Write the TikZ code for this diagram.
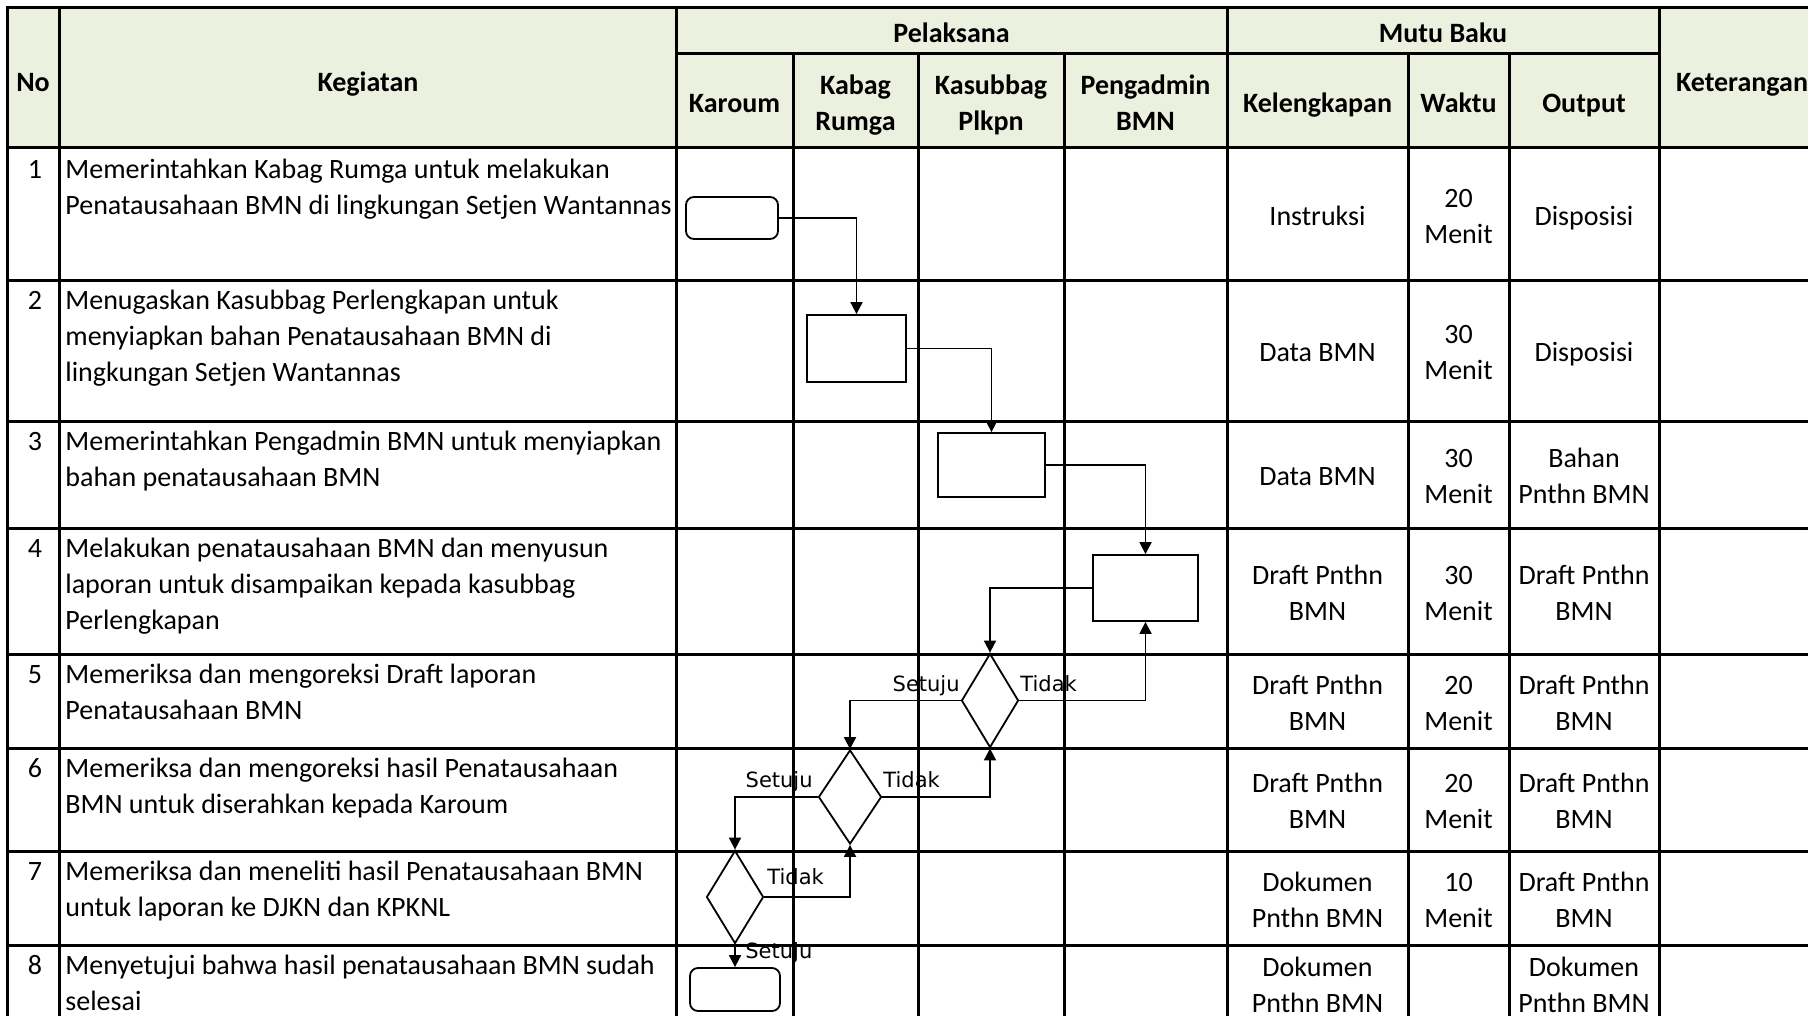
\documentclass[tikz,border=0pt]{standalone}
\usepackage{fontspec}
\setmainfont{Carlito}
\newfontfamily\labfont{DejaVu Sans}
\usetikzlibrary{arrows.meta,shapes.geometric}
\definecolor{hdr}{HTML}{EBF1DE}
\begin{document}
\begin{tikzpicture}[x=0.5pt,y=-0.5pt,
  grid/.style={line width=1.5pt,line cap=rect},
  txt/.style={inner sep=0pt,font=\fontsize{14}{18}\selectfont},
  keg/.style={txt,anchor=north west,align=left},
  num/.style={txt,anchor=north},
  cell/.style={txt,align=center,yshift=-2pt},
  hd/.style={inner sep=0pt,align=center,yshift=-2pt,font=\fontsize{14}{18}\selectfont\bfseries},
  shp/.style={draw,line width=0.9pt,inner sep=0pt},
  proc/.style={shp,rectangle},
  term/.style={shp,rectangle,rounded corners=4pt},
  dec/.style={shp,diamond},
  arr/.style={line width=0.9pt,-{Triangle[length=6pt,width=6pt]}},
  lab/.style={inner sep=0pt,font=\labfont\fontsize{10.5}{12}\selectfont}
]
\useasboundingbox (0,0) rectangle (1808,1016);
\clip (0,0) rectangle (1808,1016);
% header fill
\fill[hdr] (7,8) rectangle (1808,148);
% grid
\foreach \y in {8,148,280,421,528,654,748,851,945}
  \draw[grid] (7,\y) -- (1812,\y);
\draw[grid] (676,54) -- (1659,54);
\foreach \x in {7,59,676,1227,1659}
  \draw[grid] (\x,8) -- (\x,1020);
\foreach \x in {793,918,1064,1408,1509}
  \draw[grid] (\x,54) -- (\x,1020);
% header texts
\node[hd] (hNo) at (33,80) {\strut No};
\node[hd] (hKeg) at (368,80) {\strut Kegiatan};
\node[hd] (hPel) at (951.5,31) {\strut Pelaksana};
\node[hd] (hMutu) at (1443,31) {\strut Mutu Baku};
\node[hd] (hKar) at (734.5,101) {\strut Karoum};
\node[hd] (hKab) at (855.5,101) {\strut Kabag\\\strut Rumga};
\node[hd] (hKas) at (991,101) {\strut Kasubbag\\\strut Plkpn};
\node[hd] (hPeng) at (1145.5,101) {\strut Pengadmin\\\strut BMN};
\node[hd] (hKel) at (1317.5,101) {\strut Kelengkapan};
\node[hd] (hWak) at (1458.5,101) {\strut Waktu};
\node[hd] (hOut) at (1584,101) {\strut Output};
\node[hd] (hKet) at (1742,80) {\strut Keterangan};
% numbers
\node[num] (n1) at (35,153) {\strut 1};
\node[num] (n2) at (35,284) {\strut 2};
\node[num] (n3) at (35,425) {\strut 3};
\node[num] (n4) at (35,532) {\strut 4};
\node[num] (n5) at (35,658) {\strut 5};
\node[num] (n6) at (35,752) {\strut 6};
\node[num] (n7) at (35,855) {\strut 7};
\node[num] (n8) at (35,949) {\strut 8};
% kegiatan
\node[keg] (k1) at (65,153) {\strut Memerintahkan Kabag Rumga untuk melakukan\\\strut Penatausahaan BMN di lingkungan Setjen Wantannas};
\node[keg] (k2) at (65,284) {\strut Menugaskan Kasubbag Perlengkapan untuk\\\strut menyiapkan bahan Penatausahaan BMN di\\\strut lingkungan Setjen Wantannas};
\node[keg] (k3) at (65,425) {\strut Memerintahkan Pengadmin BMN untuk menyiapkan\\\strut bahan penatausahaan BMN};
\node[keg] (k4) at (65,532) {\strut Melakukan penatausahaan BMN dan menyusun\\\strut laporan untuk disampaikan kepada kasubbag\\\strut Perlengkapan};
\node[keg] (k5) at (65,658) {\strut Memeriksa dan mengoreksi Draft laporan\\\strut Penatausahaan BMN};
\node[keg] (k6) at (65,752) {\strut Memeriksa dan mengoreksi hasil Penatausahaan\\\strut BMN untuk diserahkan kepada Karoum};
\node[keg] (k7) at (65,855) {\strut Memeriksa dan meneliti hasil Penatausahaan BMN\\\strut untuk laporan ke DJKN dan KPKNL};
\node[keg] (k8) at (65,949) {\strut Menyetujui bahwa hasil penatausahaan BMN sudah\\\strut selesai};
% mutu baku
\node[cell] (c11) at (1317.5,214.5) {\strut Instruksi};
\node[cell] (c12) at (1458.5,214.5) {\strut 20\\\strut Menit};
\node[cell] (c13) at (1584,214.5) {\strut Disposisi};
\node[cell] (c21) at (1317.5,350.5) {\strut Data BMN};
\node[cell] (c22) at (1458.5,350.5) {\strut 30\\\strut Menit};
\node[cell] (c23) at (1584,350.5) {\strut Disposisi};
\node[cell] (c31) at (1317.5,474.5) {\strut Data BMN};
\node[cell] (c32) at (1458.5,474.5) {\strut 30\\\strut Menit};
\node[cell] (c33) at (1584,474.5) {\strut Bahan\\\strut Pnthn BMN};
\node[cell] (c41) at (1317.5,591) {\strut Draft Pnthn\\\strut BMN};
\node[cell] (c42) at (1458.5,591) {\strut 30\\\strut Menit};
\node[cell] (c43) at (1584,591) {\strut Draft Pnthn\\\strut BMN};
\node[cell] (c51) at (1317.5,701) {\strut Draft Pnthn\\\strut BMN};
\node[cell] (c52) at (1458.5,701) {\strut 20\\\strut Menit};
\node[cell] (c53) at (1584,701) {\strut Draft Pnthn\\\strut BMN};
\node[cell] (c61) at (1317.5,799.5) {\strut Draft Pnthn\\\strut BMN};
\node[cell] (c62) at (1458.5,799.5) {\strut 20\\\strut Menit};
\node[cell] (c63) at (1584,799.5) {\strut Draft Pnthn\\\strut BMN};
\node[cell] (c71) at (1317.5,898) {\strut Dokumen\\\strut Pnthn BMN};
\node[cell] (c72) at (1458.5,898) {\strut 10\\\strut Menit};
\node[cell] (c73) at (1584,898) {\strut Draft Pnthn\\\strut BMN};
\node[cell] (c81) at (1317.5,983) {\strut Dokumen\\\strut Pnthn BMN};
\node[cell] (c83) at (1584,983) {\strut Dokumen\\\strut Pnthn BMN};
% flow shapes
\node[term,minimum width=46pt,minimum height=21pt] (st) at (732,218) {};
\node[proc,minimum width=49.5pt,minimum height=33.5pt] (b2) at (856.5,348.5) {};
\node[proc,minimum width=53.5pt,minimum height=32pt] (b3) at (991.5,465) {};
\node[proc,minimum width=52.5pt,minimum height=33pt] (b4) at (1145.5,588) {};
\node[dec,minimum width=28.5pt,minimum height=47pt] (d1) at (990,700.5) {};
\node[dec,minimum width=31.5pt,minimum height=47pt] (d2) at (850,797) {};
\node[dec,minimum width=28.5pt,minimum height=46.5pt] (d3) at (735,897) {};
\node[term,minimum width=45pt,minimum height=21.5pt] (en) at (735,989.5) {};
% connectors
\draw[arr] (st.east) -| (b2.north);
\draw[arr] (b2.east) -| (b3.north);
\draw[arr] (b3.east) -| (b4.north);
\draw[arr] (b4.west) -| (d1.north);
\draw[arr] (d1.east) -| (b4.south);
\draw[arr] (d1.west) -| (d2.north);
\draw[arr] (d2.east) -| (d1.south);
\draw[arr] (d2.west) -| (d3.north);
\draw[arr] (d3.east) -| (d2.south);
\draw[arr] (d3.south) -- (en.north);
% labels
\node[lab,anchor=base east] (l1s) at (960,691) {Setuju};
\node[lab,anchor=base west] (l1t) at (1020,691) {Tidak};
\node[lab,anchor=base east] (l2s) at (813,787) {Setuju};
\node[lab,anchor=base west] (l2t) at (883,787) {Tidak};
\node[lab,anchor=base west] (l3t) at (767,884) {Tidak};
\node[lab,anchor=base west] (l3s) at (745,958) {Setuju};
\end{tikzpicture}
\end{document}
